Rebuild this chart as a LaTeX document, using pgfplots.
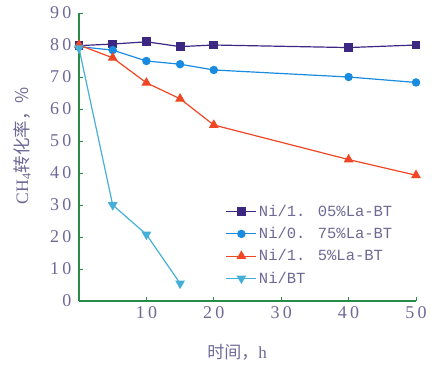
\documentclass[border=0pt]{standalone}
\usepackage{fontspec}
\usepackage{pgfplots}
\pgfplotsset{compat=1.18}
\setmainfont{Liberation Serif}
\newfontfamily\tickfont[LetterSpace=18]{Liberation Serif}
\newfontfamily\legfont{Liberation Mono}
\newfontfamily\cjk{Noto Sans CJK SC}
\definecolor{axgreen}{RGB}{40,140,70}
\definecolor{txt}{RGB}{110,105,150}
\definecolor{cpurple}{RGB}{60,40,130}
\definecolor{cblue}{RGB}{25,140,225}
\definecolor{cred}{RGB}{240,70,35}
\definecolor{ccyan}{RGB}{70,175,215}
\begin{document}
\begin{tikzpicture}
\useasboundingbox (-79pt,-67pt) rectangle (359pt,301pt);
\begin{axis}[
  at={(0,0)}, anchor=south west,
  scale only axis, width=337pt, height=288pt,
  xmin=0, xmax=50, ymin=0, ymax=90,
  axis x line*=bottom, axis y line*=left,
  axis line style={axgreen, line width=1.2pt, -},
  xtick={10,20,30,40,50}, ytick={10,20,...,90},
  extra y ticks={0}, extra y tick style={tick style={draw=none}},
  tick style={axgreen, line width=1pt},
  tick align=inside, major tick length=4pt,
  /pgf/number format/assume math mode=true,
  ticklabel style={font=\tickfont\fontsize{18}{18}\selectfont, text=txt},
  yticklabel style={xshift=-4pt},
  xticklabel style={yshift=-2pt},
  every axis y label/.style={at={(rel axis cs:0,0.54)}, xshift=-57pt, rotate=90, anchor=center},
  every axis x label/.style={at={(rel axis cs:0.469,0)}, anchor=center, yshift=-51pt},
  ylabel={\color{txt}\fontsize{17.5}{17.5}\selectfont CH\textsubscript{4}\cjk 转化率，\%},
  xlabel={\color{txt}\fontsize{17}{17}\selectfont\cjk 时间，\rmfamily h},
  legend style={draw=none, fill=none, at={(0.435,0.34)}, anchor=north west,
    font=\legfont\fontsize{15.5}{15.5}\selectfont, text=txt, inner sep=0pt,
    row sep=5.5pt, cells={anchor=west}},
  legend image code/.code={
    \draw[#1, mark repeat=2, mark phase=2] plot coordinates {(-2pt,0pt) (13pt,0pt) (28pt,0pt)};},
  clip=false,
]
\addplot[cpurple, line width=1.2pt, mark=square*, mark size=3.8pt] coordinates {
  (0,79.8) (5,80.3) (10,81.0) (15,79.5) (20,80.0) (40,79.2) (50,80.0)};
\addlegendentry{Ni/1. 05\%La-BT}
\addplot[cblue, line width=1.2pt, mark=*, mark size=3.6pt] coordinates {
  (0,79.5) (5,78.4) (10,75.0) (15,74.0) (20,72.2) (40,70.0) (50,68.3)};
\addlegendentry{Ni/0. 75\%La-BT}
\addplot[cred, line width=1.2pt, mark=triangle*, mark size=4.5pt] coordinates {
  (0,80.0) (5,76.0) (10,68.2) (15,63.2) (20,55.0) (40,44.2) (50,39.3)};
\addlegendentry{Ni/1. 5\%La-BT}
\addplot[ccyan, line width=1.2pt, mark=triangle*, mark options={rotate=180}, mark size=4.5pt] coordinates {
  (0,79.0) (5,30.0) (10,20.8) (15,5.5)};
\addlegendentry{Ni/BT}
\end{axis}
\end{tikzpicture}
\end{document}
